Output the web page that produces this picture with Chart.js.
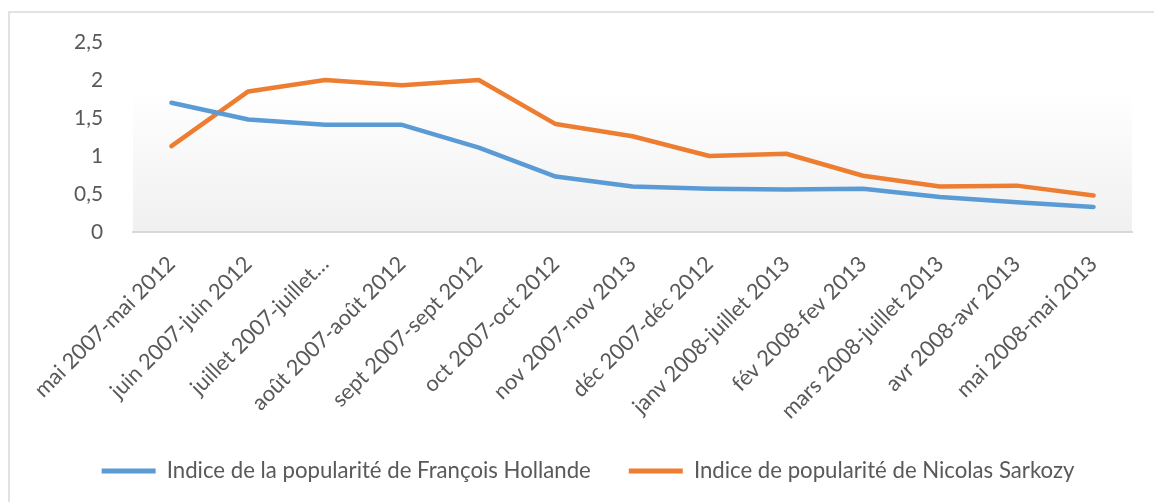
<!DOCTYPE html>
<html>
<head>
<meta charset="utf-8">
<script src="https://cdn.jsdelivr.net/npm/chart.js@4.4.0/dist/chart.umd.min.js"></script>
<style>
  html, body { margin: 0; padding: 0; background: #fff; }
  #wrap { width: 1154px; height: 502px; position: relative; }
</style>
</head>
<body>
<div id="wrap"><canvas id="c"></canvas></div>
<script>
// périodes (axe X)
const periodes = [
    'mai 2007-mai 2012', 'juin 2007-juin 2012', 'juillet 2007-juillet…',
    'août 2007-août 2012', 'sept 2007-sept 2012', 'oct 2007-oct 2012',
    'nov 2007-nov 2013', 'déc 2007-déc 2012', 'janv 2008-juillet 2013',
    'fév 2008-fev 2013', 'mars 2008-juillet 2013', 'avr 2008-avr 2013',
    'mai 2008-mai 2013'
];

// indices
const hollande = [1.70, 1.48, 1.41, 1.41, 1.11, 0.73, 0.60, 0.57, 0.56, 0.57, 0.46, 0.39, 0.33];
const sarkozy  = [1.13, 1.85, 2.00, 1.93, 2.00, 1.42, 1.26, 1.00, 1.03, 0.74, 0.60, 0.61, 0.48];

const yMin = 0;
const yMax = 2.5;
const yStep = 0.5;

const FONT = 'Lato, "Open Sans", sans-serif';
const TEXT = '#595959';

// taille de police pour qu'un texte occupe la largeur voulue (pas de Calibri ici)
function fitSize(text, target) {
    const c = document.createElement('canvas').getContext('2d');
    c.font = `100px ${FONT}`;
    return Math.round(1000 * target / c.measureText(text).width) / 10;
}
const legendSize = fitSize('Indice de la popularité de François Hollande', 425);
const xSize = fitSize('mai 2007-mai 2012', 188);
const ySize = fitSize('2,5', 29);

// fond dégradé de la zone de tracé + cadre gris
const plotBg = {
    id: 'plotBg',
    beforeDraw(chart) {
        const { ctx, chartArea: a } = chart;
        ctx.save();
        const g = ctx.createLinearGradient(0, a.top, 0, a.bottom);
        g.addColorStop(0, '#ffffff');
        g.addColorStop(0.25, '#ffffff');
        g.addColorStop(1, '#f0f0f0');
        ctx.fillStyle = g;
        ctx.fillRect(a.left, a.top, a.right - a.left, a.bottom - a.top);
        ctx.strokeStyle = '#d9d9d9';
        ctx.lineWidth = 1.5;
        ctx.strokeRect(9, 12, 1200, 600);
        ctx.restore();
    }
};

new Chart(document.getElementById('c'), {
    type: 'line',
    data: {
        labels: periodes,
        datasets: [
            {
                label: 'Indice de la popularité de François Hollande',
                data: hollande,
                borderColor: '#5B9BD5',
                backgroundColor: '#5B9BD5'
            },
            {
                label: 'Indice de popularité de Nicolas Sarkozy',
                data: sarkozy,
                borderColor: '#ED7D31',
                backgroundColor: '#ED7D31'
            }
        ]
    },
    options: {
        responsive: true,
        maintainAspectRatio: false,
        animation: false,
        layout: { padding: { top: 42, left: 44, right: 22, bottom: 10 } },
        elements: {
            line: { borderWidth: 4.5, tension: 0, borderCapStyle: 'round', borderJoinStyle: 'round' },
            point: { radius: 0, hoverRadius: 0 }
        },
        plugins: {
            legend: {
                position: 'bottom',
                labels: {
                    font: { family: FONT, size: legendSize },
                    color: TEXT,
                    boxWidth: 54,
                    boxHeight: 5,
                    padding: 38,
                    generateLabels(chart) {
                        return chart.data.datasets.map((ds, i) => ({
                            text: ds.label,
                            fillStyle: ds.borderColor,
                            strokeStyle: ds.borderColor,
                            lineWidth: 0,
                            fontColor: TEXT,
                            datasetIndex: i
                        }));
                    }
                }
            },
            tooltip: { enabled: false }
        },
        scales: {
            x: {
                offset: true,
                grid: { display: false },
                border: { color: '#d9d9d9', width: 2 },
                ticks: {
                    autoSkip: false,
                    minRotation: 45,
                    maxRotation: 45,
                    padding: 11,
                    color: TEXT,
                    font: { family: FONT, size: xSize }
                },
                afterFit(s) {
                    s.height = 270 - s.chart.legend.height - 10;
                }
            },
            y: {
                min: yMin,
                max: yMax,
                grid: { display: false },
                border: { display: false },
                ticks: {
                    stepSize: yStep,
                    padding: 22,
                    color: TEXT,
                    font: { family: FONT, size: ySize },
                    callback: v => String(v).replace('.', ',')
                },
                afterFit(s) {
                    s.width = 89;
                }
            }
        }
    },
    plugins: [plotBg]
});
</script>
</body>
</html>
